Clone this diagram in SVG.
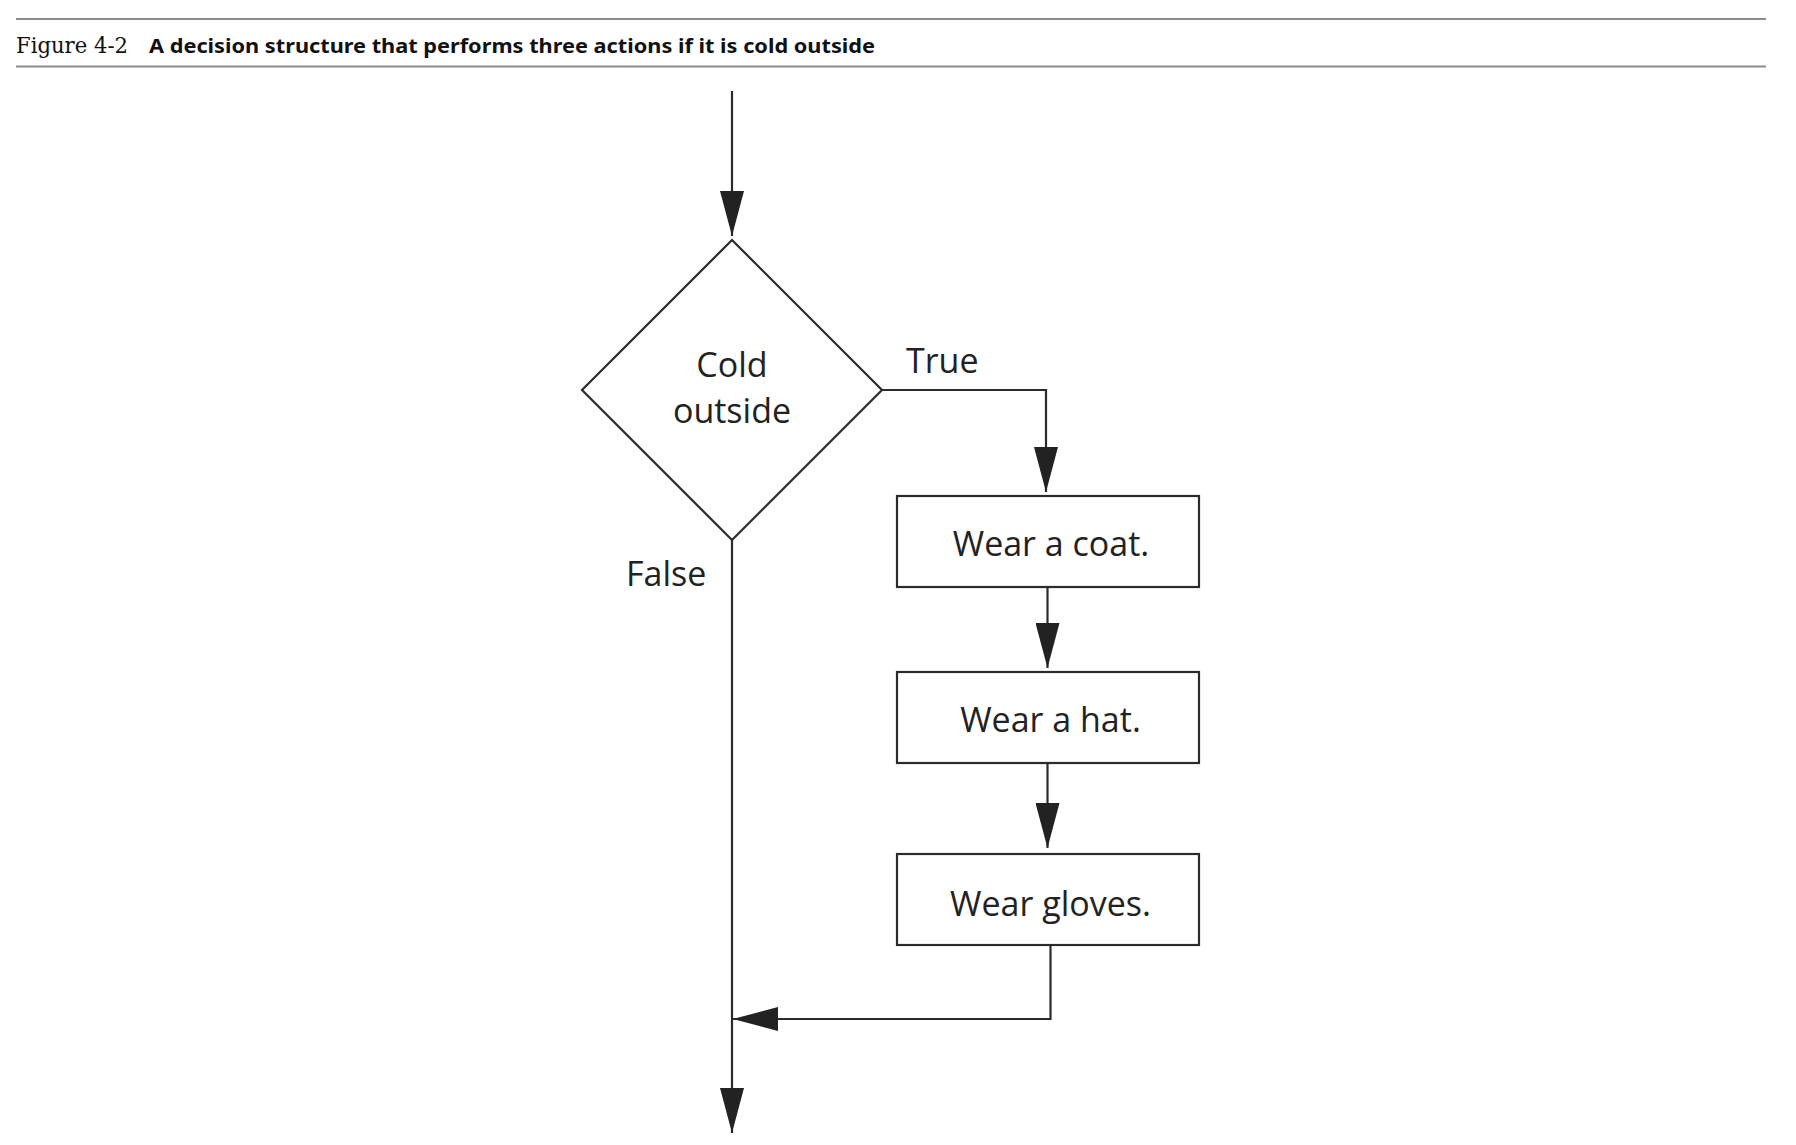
<svg xmlns="http://www.w3.org/2000/svg" width="1796" height="1145" viewBox="0 0 1796 1145">
  <style>
    .rule { stroke: #8a8a8a; stroke-width: 2.2; fill: none; }
    .fig { font-family: "DejaVu Serif", "Liberation Serif", serif; font-size: 23px; fill: #111; }
    .cap { font-family: "Noto Sans", "Liberation Sans", Arial, sans-serif; font-weight: bold; font-size: 19.5px; fill: #111; }
    .shape { fill: #ffffff; stroke: #2b2b2b; stroke-width: 2.2; }
    .lbl { font-family: "Open Sans", "DejaVu Sans", sans-serif; font-size: 34px; fill: #222; }
    .mid { text-anchor: middle; }
    .conn { fill: none; stroke: #2b2b2b; stroke-width: 2.2; }
  </style>
  <defs>
    <marker id="arrow" markerUnits="userSpaceOnUse" markerWidth="45" markerHeight="24" refX="45" refY="12" orient="auto" viewBox="0 0 45 24">
      <path d="M0,0 L45,12 L0,24 Z" fill="#222"/>
    </marker>
  </defs>
  <rect width="1796" height="1145" fill="#ffffff"/>

  <g id="caption">
    <line class="rule" x1="16" y1="19" x2="1766" y2="19"/>
    <line class="rule" x1="16" y1="66.5" x2="1766" y2="66.5"/>
    <text class="fig" x="16" y="53" textLength="112" lengthAdjust="spacingAndGlyphs">Figure 4-2</text>
    <text class="cap" x="149" y="53" textLength="726" lengthAdjust="spacingAndGlyphs">A decision structure that performs three actions if it is cold outside</text>
  </g>

  <g id="connectors">
    <line class="conn" x1="732" y1="91" x2="732" y2="236" marker-end="url(#arrow)"/>
    <polyline class="conn" points="882,390 1046,390 1046,492" marker-end="url(#arrow)"/>
    <line class="conn" x1="1047.5" y1="587" x2="1047.5" y2="668" marker-end="url(#arrow)"/>
    <line class="conn" x1="1047.5" y1="763" x2="1047.5" y2="848" marker-end="url(#arrow)"/>
    <polyline class="conn" points="1050.5,945 1050.5,1019 733,1019" marker-end="url(#arrow)"/>
    <line class="conn" x1="732" y1="540" x2="732" y2="1133" marker-end="url(#arrow)"/>
    <text class="lbl" x="906" y="373">True</text>
    <text class="lbl" x="626" y="586">False</text>
  </g>

  <g id="decision-cold">
    <polygon class="shape" points="732,240 882,390 732,540 582,390"/>
    <text class="lbl mid" x="732" y="377">Cold</text>
    <text class="lbl mid" x="732" y="423">outside</text>
  </g>

  <g id="wear-coat">
    <rect class="shape" x="897" y="496" width="302" height="91"/>
    <text class="lbl mid" x="1051" y="556">Wear a coat.</text>
  </g>

  <g id="wear-hat">
    <rect class="shape" x="897" y="672" width="302" height="91"/>
    <text class="lbl mid" x="1050.5" y="732">Wear a hat.</text>
  </g>

  <g id="wear-gloves">
    <rect class="shape" x="897" y="854" width="302" height="91"/>
    <text class="lbl mid" x="1050.5" y="916">Wear gloves.</text>
  </g>
</svg>
